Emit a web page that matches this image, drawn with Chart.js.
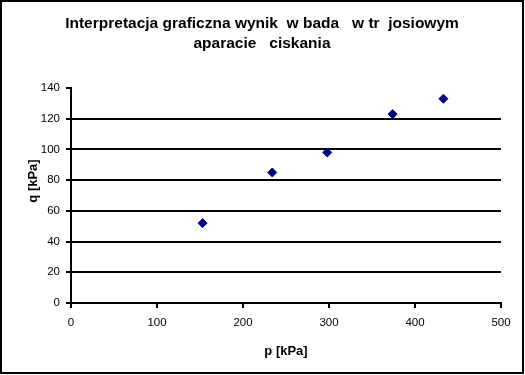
<!DOCTYPE html>
<html>
<head>
<meta charset="utf-8">
<script src="https://cdn.jsdelivr.net/npm/chart.js@4/dist/chart.umd.min.js"></script>
<style>
html,body{margin:0;padding:0;background:#fff;}
canvas{display:block;}
</style>
</head>
<body>
<canvas id="c" width="525" height="375"></canvas>
<script>
const titleLines = ["Interpretacja graficzna wynik\u00a0\u00a0w bada\u00a0\u00a0\u00a0w tr\u00a0\u00a0josiowym", "aparacie\u00a0\u00a0\u00a0ciskania"];
const xTitle = "p [kPa]";
const yTitle = "q [kPa]";
const pValues = [153, 234, 298, 374, 433];
const qValues = [52, 85, 98, 123, 133];
const xTicks = [0, 100, 200, 300, 400, 500];
const yTicks = [0, 20, 40, 60, 80, 100, 120, 140];

const FONT = "'Liberation Sans', Arial, Helvetica, sans-serif";

const decor = {
  id: 'decor',
  afterDraw(chart) {
    const ctx = chart.ctx;
    ctx.save();
    ctx.strokeStyle = '#000';
    ctx.lineWidth = 2;
    ctx.strokeRect(1, 1, 522, 372);
    ctx.fillStyle = '#000';
    ctx.textAlign = 'center';
    ctx.textBaseline = 'middle';
    ctx.font = 'bold 15.5px ' + FONT;
    ctx.fillText(titleLines[0], 262, 24);
    ctx.fillText(titleLines[1], 262, 44);
    ctx.font = 'bold 13px ' + FONT;
    ctx.translate(33, 181);
    ctx.rotate(-Math.PI / 2);
    ctx.fillText(yTitle, 0, 0);
    ctx.restore();
  }
};

new Chart(document.getElementById('c'), {
  type: 'scatter',
  data: {
    datasets: [{
      data: pValues.map((p, i) => ({x: p, y: qValues[i]})),
      pointStyle: 'rectRot',
      pointRadius: 4.5,
      pointHoverRadius: 4.5,
      backgroundColor: '#000080',
      borderColor: '#000080',
      borderWidth: 1
    }]
  },
  options: {
    responsive: false,
    animation: false,
    events: [],
    layout: {padding: {top: 88, right: 24, left: 0, bottom: 0}},
    plugins: {legend: {display: false}, title: {display: false}, tooltip: {enabled: false}},
    scales: {
      x: {
        type: 'linear',
        min: 0, max: 500,
        afterBuildTicks(s) { s.ticks = xTicks.map(v => ({value: v})); },
        afterFit(s) { s.height = 72; },
        border: {color: '#000', width: 2},
        grid: {drawOnChartArea: false, drawTicks: true, tickLength: 5, color: '#000', tickColor: '#000', lineWidth: 2},
        ticks: {color: '#000', font: {family: FONT, size: 11.5}, padding: 8, maxRotation: 0},
        title: {display: true, text: xTitle, color: '#000', font: {family: FONT, size: 13, weight: 'bold'}, padding: {top: 0, bottom: 16}}
      },
      y: {
        type: 'linear',
        min: 0, max: 140,
        afterBuildTicks(s) { s.ticks = yTicks.map(v => ({value: v})); },
        afterFit(s) { s.width = 71; },
        border: {color: '#000', width: 2},
        grid: {
          drawOnChartArea: true, drawTicks: true, tickLength: 5,
          color: c => (c.tick && c.tick.value === 140) ? 'rgba(0,0,0,0)' : '#000',
          tickColor: '#000', lineWidth: 2
        },
        ticks: {color: '#000', font: {family: FONT, size: 11.5}, padding: 6}
      }
    }
  },
  plugins: [decor]
});
</script>
</body>
</html>
